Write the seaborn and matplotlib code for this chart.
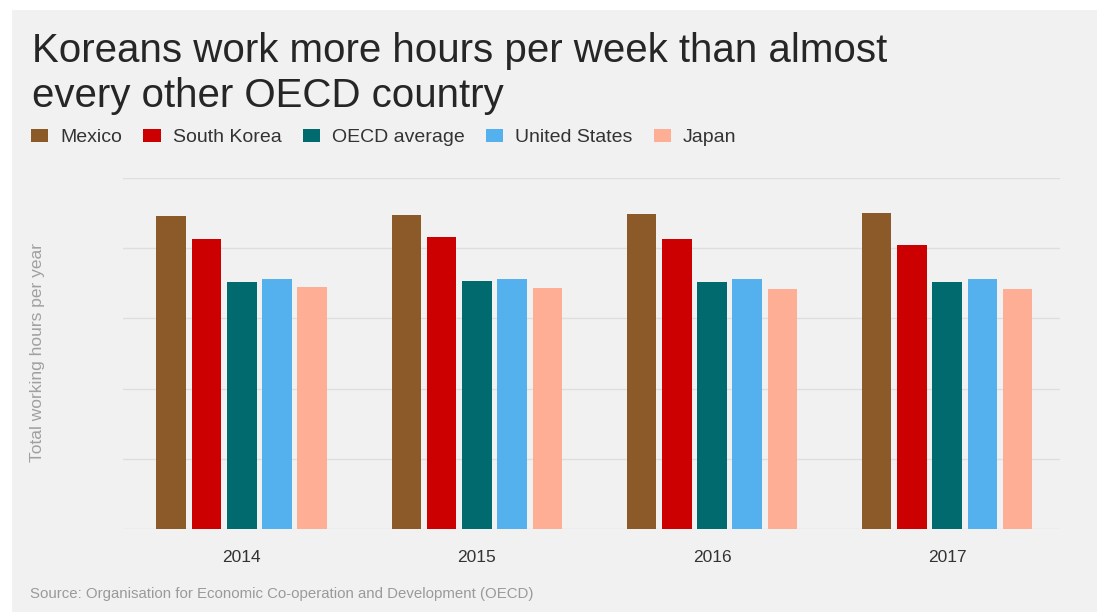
import matplotlib
matplotlib.use("Agg")
import matplotlib.pyplot as plt
from matplotlib.patches import Rectangle
import seaborn as sns
import pandas as pd

years = ["2014", "2015", "2016", "2017"]
countries = ["Mexico", "South Korea", "OECD average", "United States", "Japan"]
mexico = [2232, 2240, 2247, 2250]
south_korea = [2066, 2083, 2069, 2026]
oecd_average = [1762, 1765, 1762, 1760]
united_states = [1784, 1784, 1779, 1779]
japan = [1727, 1717, 1712, 1710]
colors = ["#8B5A28", "#CC0000", "#006A6E", "#55B0EE", "#FDAE94"]

series = [mexico, south_korea, oecd_average, united_states, japan]
rows = []
for c, vals in zip(countries, series):
    for y, v in zip(years, vals):
        rows.append({"year": y, "country": c, "hours": v})
df = pd.DataFrame(rows)

sns.set_theme(style="white")
plt.rcParams["font.family"] = ["Liberation Sans", "DejaVu Sans"]

W, H = 1102, 612
fig = plt.figure(figsize=(W / 100, H / 100), dpi=100, facecolor="white")
bg = "#f1f1f1"
fig.patches.append(Rectangle((12 / W, 0), (1097 - 12) / W, 1 - 10 / H,
                             transform=fig.transFigure, facecolor=bg,
                             edgecolor="none", zorder=-10))

ax = fig.add_axes([123 / W, (H - 529) / H, (1060 - 123) / W, (529 - 178) / H])
ax.set_facecolor(bg)
ax.set_zorder(1)

sns.barplot(data=df, x="year", y="hours", hue="country", hue_order=countries,
            palette=colors, width=0.75, gap=0.16, ax=ax, saturation=1,
            linewidth=0, legend=True)

ax.set_xlim(-0.505, 3.48)
ax.set_ylim(0, 2500)
ax.set_yticks([0, 500, 1000, 1500, 2000, 2500])
ax.set_yticklabels([])
ax.yaxis.grid(True, color="#dedede", linewidth=1)
ax.set_axisbelow(True)
for s in ax.spines.values():
    s.set_visible(False)
ax.tick_params(axis="x", length=0, pad=15, labelsize=12.5, labelcolor="#333333")
ax.tick_params(axis="y", length=0)
ax.set_xlabel("")
ax.set_ylabel("")

handles, labels = ax.get_legend_handles_labels()
ax.get_legend().remove()
for h in handles:
    h.set_linewidth(0)
fig.legend(handles, labels, loc="upper left", bbox_to_anchor=(31 / W, 1 - 129 / H),
           ncol=5, frameon=False, fontsize=14, handlelength=0.88, handleheight=0.65,
           handletextpad=0.62, columnspacing=1.1, borderpad=0, borderaxespad=0,
           labelcolor="#333333")

fig.text(32 / W, 1 - 32 / H, "Koreans work more hours per week than almost\nevery other OECD country",
         ha="left", va="top", fontsize=29, color="#262626", linespacing=1.22)

fig.text(38 / W, (H - 353) / H, "Total working hours per year", rotation=90,
         ha="center", va="center", fontsize=12.5, color="#a0a0a0")

fig.text(30 / W, 1 - 594 / H, "Source: Organisation for Economic Co-operation and Development (OECD)",
         ha="left", va="center", fontsize=10.8, color="#9a9a9a")

fig.savefig("out.png", dpi=100, facecolor="white")
